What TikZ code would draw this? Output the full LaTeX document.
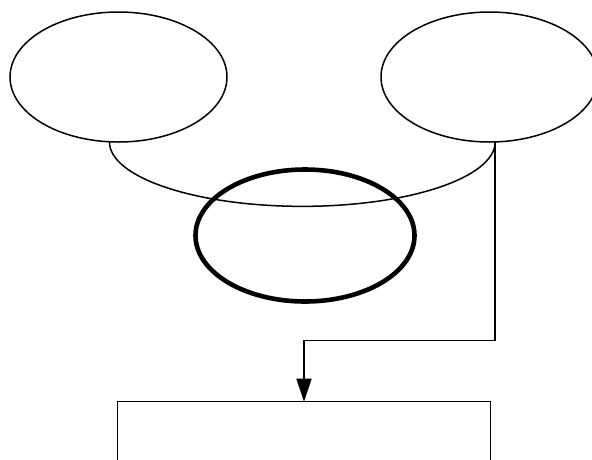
\documentclass[tikz,border=0pt]{standalone}
\usetikzlibrary{shapes.geometric,arrows.meta,calc}
\begin{document}
\begin{tikzpicture}[x=1pt,y=-1pt,
  thin/.style={line width=1.5pt},
  oval/.style={ellipse,draw,thin,inner sep=0pt,outer sep=0pt,minimum width=217pt,minimum height=130pt},
  thickoval/.style={ellipse,draw,line width=4.6pt,inner sep=0pt,outer sep=0pt,minimum width=219pt,minimum height=132pt},
  boxnode/.style={draw,thin,inner sep=0pt,outer sep=0pt,minimum width=373.4pt,minimum height=120pt,anchor=north},
  arrowline/.style={thin,-{Triangle[length=23pt,width=15pt]}}]
\fill[white] (0,0) rectangle (592,459);
\useasboundingbox (0,0) rectangle (592,459);
\clip (0,0) rectangle (592,459);
\node[oval] (L) at (118.5,77) {};
\node[oval] (R) at (489.5,77) {};
\node[thickoval] (M) at (305,235.5) {};
\node[boxnode] (box) at (304,401.7) {};
\coordinate (lb) at (L.-98);
\coordinate (rb) at (R.-85);
\coordinate (cb) at ($(lb)!0.5!(rb)+(0,64.5)$);
\draw[thin] (lb) .. controls +(0,35.6) and +(-106.6,0) .. (cb)
                 .. controls +(106.6,0) and +(0,35.6) .. (rb);
\coordinate (bend) at (304,340.5);
\draw[arrowline] (rb) |- (bend) -- (box.north);
\end{tikzpicture}
\end{document}
